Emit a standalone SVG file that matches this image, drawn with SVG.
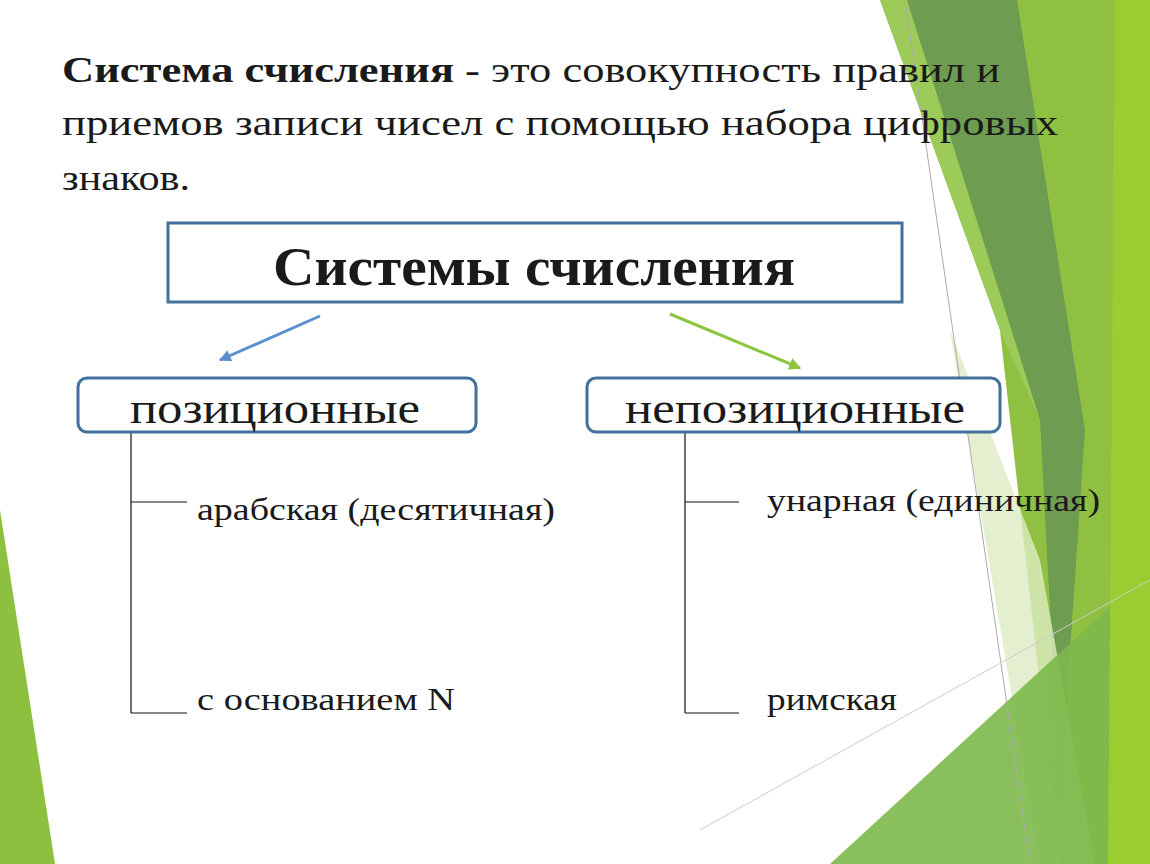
<svg xmlns="http://www.w3.org/2000/svg" width="1150" height="864" viewBox="0 0 1150 864">
<style>
.t{font-family:"Liberation Serif","Times New Roman",serif;fill:#1a1a1a}
.b{fill:#fff;stroke:#41719c;stroke-width:3}
.l{stroke:#111;stroke-width:1.2;fill:none}
</style>
<defs>
<marker id="ab" viewBox="0 0 10 10" refX="9" refY="5" markerWidth="4" markerHeight="4" orient="auto"><path d="M0,0L10,5L0,10z" fill="#5b8fd0"/></marker>
<marker id="ag" viewBox="0 0 10 10" refX="9" refY="5" markerWidth="4" markerHeight="4" orient="auto"><path d="M0,0L10,5L0,10z" fill="#8cc63f"/></marker>
</defs>
<rect width="1150" height="864" fill="#fff"/>
<g id="background">
<polygon points="0,510 55,864 0,864" fill="#8dc03e"/>
<polygon points="880,0 1150,0 1150,864 1060,864 1000,330" fill="#8fc041"/>
<polygon points="880,0 907,0 1040,420 1000,330" fill="#9ccb5a"/>
<polygon points="907,0 1017,0 1085,430 1060,800 1040,420" fill="#6e9d52"/>
<polygon points="950,330 1040,560 1095,864 1040,864" fill="#dcebc2" opacity="0.8"/>
<polygon points="830,864 1150,570 1150,864" fill="#7cb84a" opacity="0.9"/>
<polygon points="1115,0 1150,0 1150,864 1108,864" fill="#9acd32"/>
<line x1="905" y1="0" x2="1030" y2="864" stroke="#aaa" stroke-width="1"/>
<line x1="700" y1="830" x2="1150" y2="580" stroke="#ccc" stroke-width="1"/>
</g>
<g id="definition">
<text class="t" x="62" y="82" font-size="36" textLength="938" lengthAdjust="spacingAndGlyphs"><tspan font-weight="bold">Система счисления</tspan> - это совокупность правил и</text>
<text class="t" x="62" y="135" font-size="36" textLength="996" lengthAdjust="spacingAndGlyphs">приемов записи чисел с помощью набора цифровых</text>
<text class="t" x="62" y="190" font-size="36" textLength="128" lengthAdjust="spacingAndGlyphs">знаков.</text>
</g>
<g id="connectors">
<line x1="320" y1="316" x2="220" y2="360" stroke="#5b8fd0" stroke-width="3" marker-end="url(#ab)"/>
<line x1="670" y1="314" x2="800" y2="368" stroke="#8cc63f" stroke-width="3" marker-end="url(#ag)"/>
<path class="l" d="M131,432V713M131,502H187M131,713H187"/>
<path class="l" d="M685,432V713M685,502H739M685,713H739"/>
</g>
<g id="root">
<rect class="b" x="168" y="223" width="734" height="79"/>
<text class="t" x="273" y="285" font-size="54" font-weight="bold" textLength="522" lengthAdjust="spacingAndGlyphs">Системы счисления</text>
</g>
<g id="positional">
<rect class="b" x="78" y="378" width="398" height="54" rx="9"/>
<text class="t" x="130" y="423" font-size="44" textLength="290" lengthAdjust="spacingAndGlyphs">позиционные</text>
</g>
<g id="nonpositional">
<rect class="b" x="587" y="378" width="413" height="54" rx="9"/>
<text class="t" x="625" y="423" font-size="44" textLength="340" lengthAdjust="spacingAndGlyphs">непозиционные</text>
</g>
<g id="arabic"><text class="t" x="197" y="520" font-size="31" textLength="358" lengthAdjust="spacingAndGlyphs">арабская (десятичная)</text></g>
<g id="baseN"><text class="t" x="197" y="710" font-size="31" textLength="258" lengthAdjust="spacingAndGlyphs">с основанием N</text></g>
<g id="unary"><text class="t" x="767" y="511" font-size="31" textLength="333" lengthAdjust="spacingAndGlyphs">унарная (единичная)</text></g>
<g id="roman"><text class="t" x="767" y="710" font-size="31" textLength="130" lengthAdjust="spacingAndGlyphs">римская</text></g>
</svg>
